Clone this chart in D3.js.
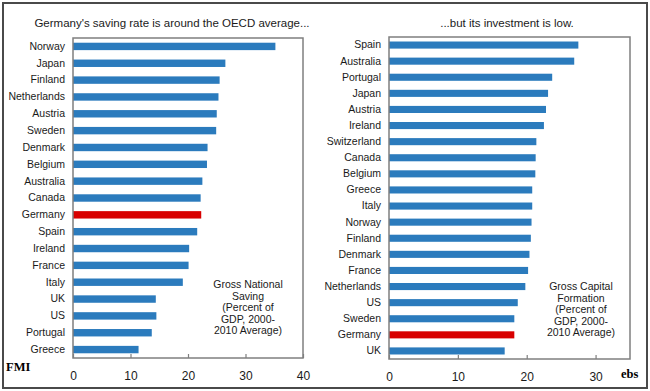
<!DOCTYPE html>
<html><head><meta charset="utf-8">
<script src="https://cdn.jsdelivr.net/npm/d3@7"></script>
<style>
html,body{margin:0;padding:0;background:#fff;}
svg{display:block;font-family:"Liberation Sans",Arial,sans-serif;}
</style></head>
<body>
<svg id="chart" width="650" height="391"></svg>
<script>
// ---- data ----
const savingCountries = ["Norway","Japan","Finland","Netherlands","Austria","Sweden","Denmark","Belgium","Australia","Canada","Germany","Spain","Ireland","France","Italy","UK","US","Portugal","Greece"];
const savingValues = [35.2,26.5,25.5,25.3,25.0,24.9,23.4,23.3,22.5,22.2,22.3,21.6,20.2,20.1,19.1,14.4,14.5,13.7,11.4];
const savingTicks = [0,10,20,30,40];

const investCountries = ["Spain","Australia","Portugal","Japan","Austria","Ireland","Switzerland","Canada","Belgium","Greece","Italy","Norway","Finland","Denmark","France","Netherlands","US","Sweden","Germany","UK"];
const investValues = [27.5,26.9,23.7,23.1,22.8,22.5,21.4,21.3,21.25,20.8,20.8,20.7,20.6,20.4,20.2,19.8,18.7,18.2,18.2,16.8];
const investTicks = [0,10,20,30];

const savingTitle = "Germany's saving rate is around the OECD average...";
const investTitle = "...but its investment is low.";
const savingNote = ["Gross National","Saving","(Percent of","GDP, 2000-","2010 Average)"];
const investNote = ["Gross Capital","Formation","(Percent of","GDP, 2000-","2010 Average)"];

const highlight = "Germany";
const blue = "#2b7bbd", red = "#d80000", boxGray = "#7f7f7f", textCol = "#1a1a1a";

const svg = d3.select("#chart");
// outer frame
svg.append("rect").attr("x",3).attr("y",3).attr("width",644).attr("height",385)
  .attr("fill","none").attr("stroke","#4a4a4a").attr("stroke-width",2);

function panel(cfg){
  const g = svg.append("g");
  const x = d3.scaleLinear().domain(cfg.domain).range([cfg.x0, cfg.x1]);
  const y = d3.scaleBand().domain(cfg.cats).range([cfg.y0, cfg.y1]).paddingInner(0.56).paddingOuter(0.28);

  // bars
  g.selectAll("rect.bar").data(cfg.cats.map((c,i)=>({c, v: cfg.vals[i]})))
    .join("rect").attr("class","bar")
    .attr("x", x(0)).attr("y", d=>y(d.c))
    .attr("width", d=>x(d.v)-x(0)).attr("height", y.bandwidth())
    .attr("fill", d=>d.c===highlight?red:blue);

  // box
  g.append("rect").attr("x",cfg.x0).attr("y",cfg.y0)
    .attr("width",cfg.x1-cfg.x0).attr("height",cfg.y1-cfg.y0)
    .attr("fill","none").attr("stroke",boxGray).attr("stroke-width",1.5);

  // x axis
  const xa = g.append("g").attr("transform",`translate(0,${cfg.y1})`)
    .call(d3.axisBottom(x).tickValues(cfg.ticks).tickSize(-4).tickPadding(13).tickSizeOuter(0));
  xa.select(".domain").remove();
  xa.selectAll("line").attr("stroke",boxGray).attr("stroke-width",1.2);
  xa.selectAll("text").attr("font-size",12).attr("fill",textCol).attr("font-family","'Liberation Sans',Arial,sans-serif");

  // y axis
  const ya = g.append("g").attr("transform",`translate(${cfg.x0},0)`)
    .call(d3.axisLeft(y).tickSize(0).tickPadding(8));
  ya.select(".domain").remove();
  ya.selectAll("text").attr("font-size",10.5).attr("fill",textCol).attr("font-family","'Liberation Sans',Arial,sans-serif");

  // title
  g.append("text").attr("x",cfg.titleX).attr("y",27).attr("text-anchor","middle")
    .attr("font-size",11.5).attr("fill",textCol).text(cfg.title);

  // note
  const t = g.append("text").attr("text-anchor","middle").attr("font-size",10.5).attr("fill",textCol);
  cfg.note.forEach((line,i)=>{
    t.append("tspan").attr("x",cfg.noteX).attr("y",cfg.noteY + i*11.6).text(line);
  });
}

panel({cats:savingCountries, vals:savingValues, ticks:savingTicks, domain:[0,40],
  x0:73, x1:303, y0:38, y1:358, title:savingTitle, titleX:172, note:savingNote, noteX:248, noteY:288});
panel({cats:investCountries, vals:investValues, ticks:investTicks, domain:[0,35],
  x0:389, x1:630, y0:37, y1:359, title:investTitle, titleX:507, note:investNote, noteX:581, noteY:290});

svg.append("text").attr("x",6).attr("y",371).attr("font-family","'Liberation Serif','Times New Roman',serif")
  .attr("font-weight","bold").attr("font-size",12.5).attr("fill","#000").text("FMI");
svg.append("text").attr("x",621).attr("y",378).attr("font-family","'Liberation Serif','Times New Roman',serif")
  .attr("font-weight","bold").attr("font-size",12.5).attr("fill","#000").text("ebs");
</script>
</body></html>
